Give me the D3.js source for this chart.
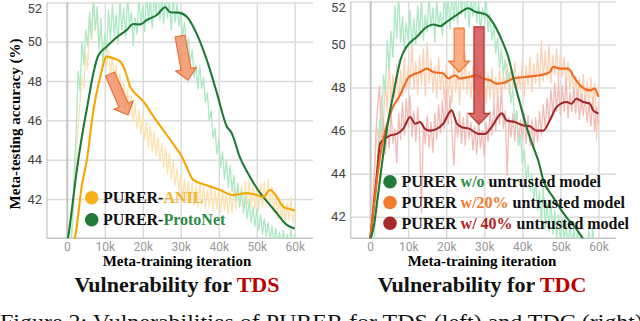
<!DOCTYPE html>
<html><head><meta charset="utf-8">
<script src="https://cdn.jsdelivr.net/npm/d3@7"></script>
<style>body{margin:0;background:#fff}svg{display:block}</style>
</head><body><svg id="c" width="640" height="321"></svg>
<script>
// ---------- DATA ----------
const rawStep = 500; // raw logs every 500 iterations, 0..60k
const xTicks = [0, 10000, 20000, 30000, 40000, 50000, 60000];
const xTickLabels = ["0", "10k", "20k", "30k", "40k", "50k", "60k"];
const yTicks = [42, 44, 46, 48, 50, 52];

// Left panel (TDS) raw accuracies
const tdsRawProto = [38,38.5,39.5,41,43.5,45.5,48.5,47.5,50,48.8,
50.6,49.8,51.5,50.2,52.2,50.6,51.8,49.6,51.2,48.9,
50.4,49.5,51.6,50.1,51.9,50.3,51.4,49.9,52.1,50.6,
51.7,50.2,52.3,50.8,51.5,49.8,51.2,50.4,52.4,50.9,
51.8,50.5,52.6,51.0,52.2,50.7,52.5,51.3,52.8,51.1,
52.3,50.9,52.6,51.2,52.1,50.6,52.4,51.0,51.9,50.8,
51.5,50.3,51.0,49.6,50.2,48.9,49.6,48.2,48.8,47.6,
48.8,47.6,48.2,46.9,47.4,46.0,46.5,45.1,45.6,44.3,
45.0,43.6,44.4,43.0,44.0,42.6,43.7,42.4,43.2,41.9,
42.8,41.6,42.5,41.3,42.2,41.0,41.9,40.8,41.6,40.6,
41.5,40.4,41.2,40.2,41.0,40.1,40.8,39.9,40.6,39.8,
40.5,39.7,40.3,39.6,40.4,39.5,40.2,39.6,40.5,39.7,
40.2];
const tdsRawAnil = [37,38,39,40.5,42.5,44.0,45.8,46.9,48.2,47.6,
49.4,48.6,51.2,50.1,52.0,50.6,51.5,49.8,50.7,49.2,
50.1,48.8,49.6,48.3,49.2,47.9,48.8,47.5,48.4,47.1,
47.9,46.6,47.6,46.3,47.2,45.9,46.8,45.6,46.5,45.3,
46.2,45.0,45.9,44.6,45.7,44.4,45.4,44.2,45.1,43.9,
44.8,43.6,44.6,43.3,44.3,43.0,43.9,42.7,43.5,42.4,
43.2,42.1,43.0,41.9,42.9,41.8,42.8,41.7,42.7,41.6,
42.8,41.7,42.6,41.5,42.5,41.6,42.7,41.4,42.4,41.5,
42.6,41.3,42.5,41.4,42.3,41.2,42.4,41.3,42.6,41.5,
42.8,41.6,42.7,41.4,42.9,41.7,43.0,41.6,42.7,41.5,
42.6,41.4,42.8,41.6,42.9,41.7,43.0,41.8,42.6,41.3,
42.3,41.0,42.0,40.8,41.9,40.7,41.8,40.9,42.1,40.8,
41.6];
// Left panel smoothed curves [iteration (k), accuracy]
const tdsProtoIter = [0,0.4,1.3,2.6,4,5.3,7,8.3,10.5,13,15.8,17.5,19.3,21,23.7,25.9,27.2,29.4,31.6,34.2,36.8,39.5,42.1,43.4,45.6,48,50.9,53,55.3,57.9,60];
const tdsProtoAcc  = [39.8,40.1,41.4,43.4,45.2,46.6,48.4,49.3,49.75,50.2,50.6,50.9,50.88,51.1,51.36,51.75,51.5,51.48,51.27,50.4,49.1,47.4,45.7,45.35,44.1,43.2,42.3,41.8,41.27,40.68,40.5];
const tdsAnilIter = [1.5,2.2,3.9,5.3,7,8.8,10.5,12.3,14,15.3,16.7,18.4,20.2,22.8,25.4,28,30.3,31.6,33.3,36.8,40.3,43.8,47.4,50,51.7,53.5,55.3,57,59.6,60];
const tdsAnilAcc  = [39.8,40.1,42.6,44.0,46.5,48.2,49.24,49.16,49.0,48.56,47.7,47.3,46.95,46.2,45.5,44.8,44.15,43.6,42.97,42.7,42.46,42.2,42.3,42.2,42.1,42.46,42.1,41.6,41.44,41.4];

// Right panel (TDC) raw accuracies
const tdcRawClean = [38,39,40.5,42.5,44.8,46.5,45.9,48.6,47.8,50.2,
48.9,50.6,49.4,51.8,50.3,52.4,50.1,51.3,49.7,51.0,
50.2,51.6,49.9,51.2,50.0,51.8,50.4,52.1,50.2,51.4,
50.6,52.3,50.8,51.7,50.1,52.0,50.9,51.5,50.4,52.4,
51.0,52.2,50.7,52.6,51.1,52.3,50.9,52.7,51.4,52.5,
51.2,52.4,50.8,52.2,51.3,52.5,51.0,52.0,50.6,51.7,
51.2,52.1,50.6,51.4,50.2,50.9,49.6,50.3,48.9,49.8,
48.6,49.3,48.2,48.7,47.3,47.9,46.4,46.9,45.3,45.8,
44.5,45.1,43.7,44.4,43.2,44.0,42.8,43.6,42.3,43.2,
41.7,43.4,41.5,42.6,41.3,42.8,41.2,42.3,41.0,42.1,
40.8,41.9,40.9,41.7,40.7,41.6,40.8,41.4,40.6,41.3,
40.5,41.2,40.4,41.0,40.5,41.4,40.3,41.5,40.4,40.9,
40.3];
const tdcRaw20 = [41.0,42.2,43.8,45.2,46.1,45.4,47.6,46.3,48.4,46.9,
49.3,47.2,48.6,47.5,49.1,47.3,48.8,47.6,49.4,47.8,
49.0,48.0,50.3,47.9,49.2,47.7,49.5,48.1,49.8,47.6,
50.1,48.2,49.3,47.8,49.0,47.5,49.4,47.9,48.8,47.4,
49.1,47.6,48.6,47.3,49.3,47.8,48.9,47.2,49.2,47.9,
49.6,47.7,48.8,47.5,49.0,47.8,49.2,47.4,48.7,47.6,
49.0,47.3,48.6,47.5,48.9,47.2,48.5,47.4,48.8,47.6,
48.7,47.9,49.1,47.7,48.9,48.0,49.2,47.8,48.6,47.9,
49.3,47.6,49.0,48.1,49.4,47.8,49.1,48.2,49.6,48.0,
50.2,48.3,49.7,48.4,50.0,48.2,49.5,48.6,49.8,48.3,
49.6,48.5,49.4,48.1,49.2,47.9,48.8,47.6,48.5,47.3,
48.4,47.0,48.6,47.2,48.3,46.9,48.5,47.1,48.2,45.6,
47.4];
const tdcRaw40 = [41.0,42.0,43.5,45.8,47.2,48.1,45.0,46.6,44.9,46.3,
45.2,46.9,45.4,46.1,44.5,46.8,45.6,47.3,45.8,47.5,
46.2,47.6,45.7,46.9,45.5,47.1,45.8,42.2,46.3,45.4,
46.7,45.2,46.4,45.0,46.8,45.6,47.2,45.9,47.4,46.1,
47.9,46.3,47.6,45.9,44.4,46.5,45.7,46.9,45.4,46.6,
45.3,46.8,45.6,46.4,45.1,46.2,44.9,46.5,45.2,46.0,
44.8,46.4,45.5,46.9,45.8,47.3,46.0,47.6,46.3,48.0,
46.1,46.9,43.9,46.6,45.7,46.8,45.5,46.9,45.3,46.5,
45.6,46.8,45.4,46.7,45.3,46.5,45.2,46.6,45.5,46.9,
45.8,47.2,46.1,47.5,46.4,47.9,46.8,48.2,46.9,48.3,
46.7,48.1,46.9,48.4,46.6,47.8,46.9,48.0,46.8,47.9,
46.5,47.7,46.7,47.6,46.4,47.3,46.2,47.5,46.0,47.1,
46.3];
// Right panel smoothed curves
const tdcCleanIter = [0,1,2,3,4,5,6,7,8,9.6,12.3,14.9,16.6,18.4,20.1,22.8,25.8,27.6,29.3,30.6,32.4,34.6,36.3,38,39.4,41.1,42.9,44.2,45.5,48.1,51.6,54.2,56,58,60];
const tdcCleanAcc  = [40.9,41.6,42.9,44.3,45.6,46.7,47.6,48.5,49.3,49.9,50.36,50.82,50.93,50.85,51.05,51.37,51.68,51.52,51.45,51.37,50.98,50.2,49.42,48.18,47.25,46.16,45.23,44.6,43.7,42.9,41.97,41.43,40.96,40.5,40.1];
const tdc20Iter = [0,1,2,3,4,5,6,7,8,9,10,10.9,13.1,14.9,16.6,19.2,20.6,22.3,23.6,26.2,28,29.7,31.5,33.3,35,37.6,41.1,44.6,47.2,48.1,49.9,52,53.8,55.6,57.7,59,60];
const tdc20Acc  = [40.9,42.5,44.0,45.2,46.0,46.6,47.1,47.4,47.7,48.1,48.45,48.57,48.72,48.88,48.72,48.65,48.42,48.57,48.42,48.5,48.57,48.42,48.34,48.18,48.21,48.42,48.5,48.57,48.72,48.96,48.88,48.88,48.42,48.03,47.87,47.95,47.56];
const tdc40Iter = [0,1,2,2.6,3.9,5.2,7,8.7,10.5,11.8,13.1,14.4,15.7,17.5,19.2,21.4,22.8,24.1,26.2,28.4,30.2,31.9,34.6,35.9,38,40.2,42,43.7,45.5,47.2,49,51.6,52.9,54.2,56,57.7,58.6,60];
const tdc40Acc  = [40.9,42.6,44.4,45.4,45.62,45.77,45.85,46.08,46.63,46.32,46.4,46.08,46.0,46.08,46.32,46.94,46.32,46.16,46.08,45.85,45.85,46.16,46.8,46.47,46.4,46.24,46.2,46.0,46.0,46.47,47.1,47.33,47.25,47.48,47.33,47.25,46.94,46.8];

// Annotation arrows [startIter(k), startAcc, tipIter(k), tipAcc]
const tdsArrows = [[11.4,48.36,16.1,46.27],[29.8,50.29,31.9,48.05]];
const tdcArrows = [[23.4,50.76,23.4,48.72,"o"],[28.6,50.82,28.6,46.29,"r"]];

// ---------- DRAW ----------
const svg = d3.select("#c");
svg.append("rect").attr("width",640).attr("height",321).attr("fill","#fff");
const serif = "'Liberation Serif','Times New Roman',serif";
const sans = "Roboto,'Liberation Sans',Arial,sans-serif";

function panel(id, xr, xd, yr, yd){
  const x = d3.scaleLinear().domain(xd).range(xr);
  const y = d3.scaleLinear().domain(yd).range(yr);
  const g = svg.append("g");
  g.append("clipPath").attr("id",id).append("rect")
    .attr("x",xr[0]).attr("y",yr[1]).attr("width",xr[1]-xr[0]).attr("height",yr[0]-yr[1]);
  const ya = g.append("g").attr("transform",`translate(${xr[0]},0)`)
    .call(d3.axisLeft(y).tickValues(yTicks).tickSize(-(xr[1]-xr[0])).tickPadding(5).tickFormat(d3.format("d")));
  ya.select(".domain").remove();
  ya.selectAll("line").attr("stroke","#dcdcdc").attr("stroke-width",1.5);
  ya.selectAll("text").attr("fill","#444").attr("font-size",13).attr("font-family",sans)
    .attr("y", d => Math.max(0, y.range()[1] + 6 - y(d)));
  const xa = g.append("g").attr("transform",`translate(0,${yr[0]})`)
    .call(d3.axisBottom(x).tickValues(xTicks).tickSize(-(yr[0]-yr[1])).tickPadding(4)
      .tickFormat((d,i)=>xTickLabels[i]));
  xa.select(".domain").remove();
  xa.selectAll("line").attr("stroke", d => d===0 ? "#c4c4c4" : "#dcdcdc").attr("stroke-width", d => d===0 ? 2 : 1.5);
  xa.selectAll("text").attr("fill","#999").attr("font-size",12).attr("font-family",sans);
  g.append("line").attr("x1",xr[0]).attr("x2",xr[0]).attr("y1",yr[1]).attr("y2",yr[0]).attr("stroke","#cfcfcf").attr("stroke-width",1.5);
  g.append("line").attr("x1",xr[0]).attr("x2",xr[1]).attr("y1",yr[0]).attr("y2",yr[0]).attr("stroke","#c4c4c4").attr("stroke-width",1.5);
  const plot = g.append("g").attr("clip-path",`url(#${id})`);
  return {x,y,g,plot};
}

function rawLine(p, vals, color){
  p.plot.append("path").datum(vals)
    .attr("d", d3.line().x((d,i)=>p.x(i*rawStep)).y(d=>p.y(d)))
    .attr("fill","none").attr("stroke",color).attr("stroke-width",1.3).attr("stroke-linejoin","round");
}
function smoothLine(p, it, acc, color){
  p.plot.append("path").datum(it.map((d,i)=>[d*1000,acc[i]]))
    .attr("d", d3.line().curve(d3.curveMonotoneX).x(d=>p.x(d[0])).y(d=>p.y(d[1])))
    .attr("fill","none").attr("stroke",color).attr("stroke-width",2.1).attr("stroke-linejoin","round");
}
function arrow(p, a, fill, stroke){
  const x0=p.x(a[0]*1000), y0=p.y(a[1]), x1=p.x(a[2]*1000), y1=p.y(a[3]);
  const dx=x1-x0, dy=y1-y0, L=Math.hypot(dx,dy), ux=dx/L, uy=dy/L, nx=-uy, ny=ux;
  const sw=5, hw=10.5, hl=11;
  const bx=x1-ux*hl, by=y1-uy*hl;
  const pts=[[x0+nx*sw,y0+ny*sw],[bx+nx*sw,by+ny*sw],[bx+nx*hw,by+ny*hw],[x1,y1],
             [bx-nx*hw,by-ny*hw],[bx-nx*sw,by-ny*sw],[x0-nx*sw,y0-ny*sw]];
  p.g.append("polygon").attr("points",pts.map(q=>q.join(",")).join(" "))
    .attr("fill",fill).attr("stroke",stroke).attr("stroke-width",1.2);
}

// Left panel
const L = panel("clipL",[47,313],[-5200,64800],[238.3,2.4],[40,52]);
rawLine(L, tdsRawAnil, "#fde2b2");
rawLine(L, tdsRawProto, "#ace9c4");
smoothLine(L, tdsProtoIter, tdsProtoAcc, "#1f7a36");
smoothLine(L, tdsAnilIter, tdsAnilAcc, "#f7a600");
tdsArrows.forEach(a=>arrow(L,a,"rgba(240,140,95,0.8)","#e8743b"));

// Right panel
const R = panel("clipR",[350.7,616],[-5100,64600],[238.3,1.4],[41,52]);
rawLine(R, tdcRaw20, "#fcd2b6");
rawLine(R, tdcRaw40, "#f2bcb6");
rawLine(R, tdcRawClean, "#ace9c4");
smoothLine(R, tdc40Iter, tdc40Acc, "#a3282a");
smoothLine(R, tdc20Iter, tdc20Acc, "#f26a1b");
smoothLine(R, tdcCleanIter, tdcCleanAcc, "#1f7a36");
tdcArrows.forEach(a=> a[4]==="o" ? arrow(R,a,"rgba(246,160,110,0.85)","#f07a30") : arrow(R,a,"rgba(210,70,70,0.8)","#b8322c"));

// Axis titles
svg.append("text").attr("transform","translate(20,124) rotate(-90)").attr("text-anchor","middle")
  .attr("font-family",serif).attr("font-weight","bold").attr("font-size",15).text("Meta-testing accuracy (%)");
[[177,"TDS"],[482,"TDC"]].forEach(([cx,t])=>{
  svg.append("text").attr("x",cx).attr("y",266).attr("text-anchor","middle")
    .attr("font-family",serif).attr("font-weight","bold").attr("font-size",15).text("Meta-training iteration");
  const tt = svg.append("text").attr("x",cx).attr("y",291.5).attr("text-anchor","middle")
    .attr("font-family",serif).attr("font-weight","bold").attr("font-size",22);
  tt.append("tspan").attr("fill","#111").text("Vulnerability for ");
  tt.append("tspan").attr("fill","#c00000").text(t);
});

// Legends
function legend(cx, cy, tx, parts, col){
  svg.append("circle").attr("cx",cx).attr("cy",cy).attr("r",6.8).attr("fill",col);
  const t = svg.append("text").attr("x",tx).attr("y",cy+5.6).attr("font-family",serif)
    .attr("font-weight","bold").attr("font-size",16);
  parts.forEach(([s,c])=>t.append("tspan").attr("fill",c).text(s));
}
legend(91.7,197.8,103,[["PURER-","#111"],["ANIL","#f7b030"]],"#f8b01e");
legend(91.7,219.8,103,[["PURER-","#111"],["ProtoNet","#2e8b45"]],"#237a3b");
legend(390,181.7,401.5,[["PURER ","#111"],["w/o","#2e8b45"],[" untrusted model","#111"]],"#237a3b");
legend(390,202.5,401.5,[["PURER ","#111"],["w/20%","#f07a30"],[" untrusted model","#111"]],"#f47a2e");
legend(390,223.3,401.5,[["PURER ","#111"],["w/ 40%","#b22222"],[" untrusted model","#111"]],"#a52a2a");

// Caption (partly cut at bottom, as in the source figure)
svg.append("text").attr("x",0).attr("y",328.5).attr("font-family",serif).attr("font-size",22)
  .attr("fill","#111").attr("textLength",643).attr("lengthAdjust","spacingAndGlyphs")
  .text("Figure 2: Vulnerabilities of PURER for TDS (left) and TDC (right)");
</script></body></html>
